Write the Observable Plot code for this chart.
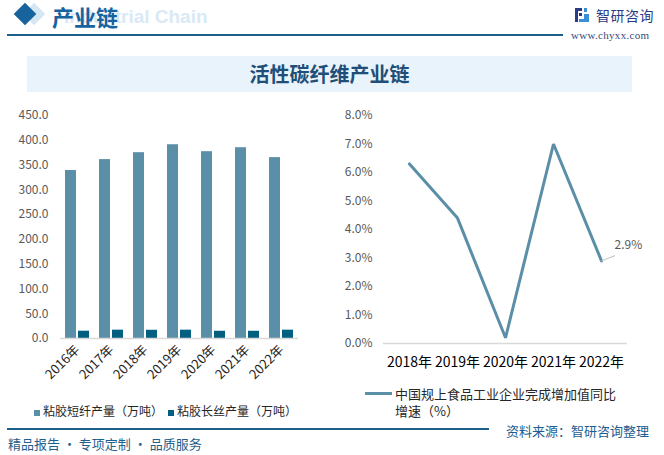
<!DOCTYPE html>
<html><head><meta charset="utf-8">
<script src="https://cdn.jsdelivr.net/npm/d3@7"></script>
<script src="https://cdn.jsdelivr.net/npm/@observablehq/plot@0.6"></script>
<style>
html,body{margin:0;padding:0;background:#fff}
body{width:664px;height:455px;overflow:hidden;position:relative;font-family:"Noto Sans CJK SC","Noto Sans",sans-serif}
.abs{position:absolute;white-space:nowrap}
</style></head><body>
<script>
// ---- data ----
const years = ["2016年","2017年","2018年","2019年","2020年","2021年","2022年"];
const seriesNames = ["粘胶短纤产量（万吨）","粘胶长丝产量（万吨）"];
const shortFiber = [339, 361, 375, 391, 377, 385, 365];
const filament = [14.7, 16.8, 16.6, 16.8, 14.6, 14.6, 16.8];
const leftTicks = [0,50,100,150,200,250,300,350,400,450];

const growthYears = ["2018年","2019年","2020年","2021年","2022年"];
const growthName = "中国规上食品工业企业完成增加值同比增速（%）";
const growth = [6.3, 4.4, 0.2, 7.0, 2.9];
const rightTicks = [0,1,2,3,4,5,6,7,8];

const colors = ["#5b8fa8","#035f80"];
const FONT = '"Noto Sans CJK SC","Noto Sans",sans-serif';

function add(html, css){
  const d=document.createElement("div"); d.className="abs"; d.innerHTML=html;
  Object.assign(d.style, css); document.body.appendChild(d); return d;
}

// ---- header ----
add("",{left:"26px",top:"6px",width:"16px",height:"16px",background:"#d6e7f4",transform:"rotate(45deg)"});
add("",{left:"17px",top:"6px",width:"16px",height:"16px",background:"#16639e",transform:"rotate(45deg)"});
add("Industrial Chain",{left:"64px",top:"6px",fontFamily:"Arial,'Liberation Sans',sans-serif",fontWeight:"bold",fontSize:"19px",color:"#d9e9f6"});
add("产业链",{left:"52px",top:"1px",fontSize:"22px",fontWeight:"bold",color:"#16639e",lineHeight:"30px"});
add("",{left:"7px",top:"34px",width:"556px",height:"2px",background:"#1f5f8b"});
add('<svg width="14" height="14" viewBox="0 0 14 14"><rect x="0" y="0" width="7" height="3" fill="#2b3b86"/><rect x="0" y="0" width="3" height="14" fill="#2b3b86"/><rect x="4" y="5" width="3" height="3" fill="#2b3b86"/><rect x="9" y="0" width="3" height="4" fill="#3a8fd6"/><rect x="9" y="6" width="5" height="8" fill="#3a8fd6"/><rect x="4" y="11" width="5" height="3" fill="#3a8fd6"/></svg>',{left:"575px",top:"8px",lineHeight:"0"});
add("智研咨询",{left:"596px",top:"5px",fontSize:"14px",color:"#2b3b86",lineHeight:"20px",letterSpacing:"0.5px"});
add("www.chyxx.com",{left:"571px",top:"28px",fontFamily:"'Liberation Serif','DejaVu Serif',serif",fontSize:"11px",color:"#3a4a7a",lineHeight:"14px",letterSpacing:"0.3px"});

// ---- title banner ----
add("活性碳纤维产业链",{left:"27px",top:"56px",width:"605px",height:"36px",background:"#e8f3fb",textAlign:"center",fontSize:"20px",fontWeight:"bold",color:"#1f4e79",lineHeight:"36px"});

// ---- left chart ----
const barData = years.flatMap((y,i)=>[
  {year:y, series:seriesNames[0], value:shortFiber[i]},
  {year:y, series:seriesNames[1], value:filament[i]}
]);
const left = Plot.plot({
  width:330, height:292, marginTop:15, marginLeft:59, marginRight:31, marginBottom:54,
  style:{fontFamily:FONT, fontSize:"12px", color:"#595959", background:"transparent", overflow:"visible"},
  fx:{domain:years, padding:0, label:null},
  x:{domain:seriesNames, paddingInner:0.19, paddingOuter:0.32, axis:null},
  y:{domain:[0,450], label:null},
  color:{domain:seriesNames, range:colors},
  marks:[
    Plot.axisY({ticks:leftTicks, tickFormat:d3.format(".1f"), tickSize:0, tickPadding:12, label:null, fill:"#595959", fontSize:12}),
    Plot.axisFx({anchor:"bottom", tickRotate:-45, tickSize:0, tickPadding:9, label:null, fill:"#262626", fontSize:13}),
    Plot.barY(barData,{fx:"year", x:"series", y:"value", fill:"series"}),
    Plot.ruleY([0],{stroke:"#d9d9d9", strokeWidth:1.5})
  ]
});
const lw = add("",{left:"0px",top:"100px",zIndex:1}); lw.appendChild(left);

// legend left
add(`<span style="display:inline-block;width:6px;height:6px;background:${colors[0]};margin-right:3px;vertical-align:middle"></span>${seriesNames[0]}`,
  {left:"34px",top:"402px",fontSize:"12px",color:"#262626",lineHeight:"18px",zIndex:1});
add(`<span style="display:inline-block;width:6px;height:6px;background:${colors[1]};margin-right:3px;vertical-align:middle"></span>${seriesNames[1]}`,
  {left:"168px",top:"402px",fontSize:"12px",color:"#262626",lineHeight:"18px",zIndex:1});

// ---- right chart ----
const lineData = growthYears.map((y,i)=>({year:y, value:growth[i]}));
const last = [lineData[lineData.length-1]];
const right = Plot.plot({
  width:334, height:280, marginTop:15, marginLeft:53, marginRight:37, marginBottom:37,
  style:{fontFamily:FONT, fontSize:"12px", color:"#595959", background:"transparent", overflow:"visible"},
  x:{type:"point", domain:growthYears, padding:0.5, label:null},
  y:{domain:[0,8], label:null},
  marks:[
    Plot.axisY({ticks:rightTicks, tickFormat:d=>d.toFixed(1)+"%", tickSize:0, tickPadding:11, label:null, fill:"#595959", fontSize:12}),
    Plot.axisX({tickSize:0, tickPadding:14, label:null, fill:"#000", fontSize:14}),
    Plot.ruleY([0],{stroke:"#d9d9d9", strokeWidth:1.5}),
    Plot.line(lineData,{x:"year", y:"value", stroke:colors[0], strokeWidth:3, strokeLinejoin:"miter"}),
    Plot.vector(last,{x:"year", y:"value", length:14, rotate:69, anchor:"start", stroke:"#bfbfbf", strokeWidth:1,
      shape:{draw(ctx,l){ctx.moveTo(0,0); ctx.lineTo(0,-l);}}}),
    Plot.text(last,{x:"year", y:"value", text:d=>d.value.toFixed(1)+"%", dx:13, dy:-16, textAnchor:"start", fill:"#595959", fontSize:12})
  ]
});
const rw = add("",{left:"330px",top:"100px",zIndex:1}); rw.appendChild(right);

// legend right (one wrapped text)
add(`<span style="display:inline-block;width:27px;height:3px;background:${colors[0]};margin:7px 3px 0 0;vertical-align:top"></span><span style="display:inline-block;width:224px;white-space:normal;vertical-align:top">${growthName}</span>`,
  {left:"365px",top:"385px",fontSize:"13px",color:"#262626",lineHeight:"17px",zIndex:1});

// ---- footer ----
add("",{left:"7px",top:"428px",width:"482px",height:"2px",background:"#1f5f8b"});
add("资料来源：智研咨询整理",{left:"506px",top:"422px",fontSize:"13px",color:"#1d5d90",lineHeight:"18px",zIndex:1});
add("精品报告 · 专项定制 · 品质服务",{left:"8px",top:"435px",fontSize:"13px",color:"#1f5f8b",lineHeight:"18px"});
</script>
</body></html>
